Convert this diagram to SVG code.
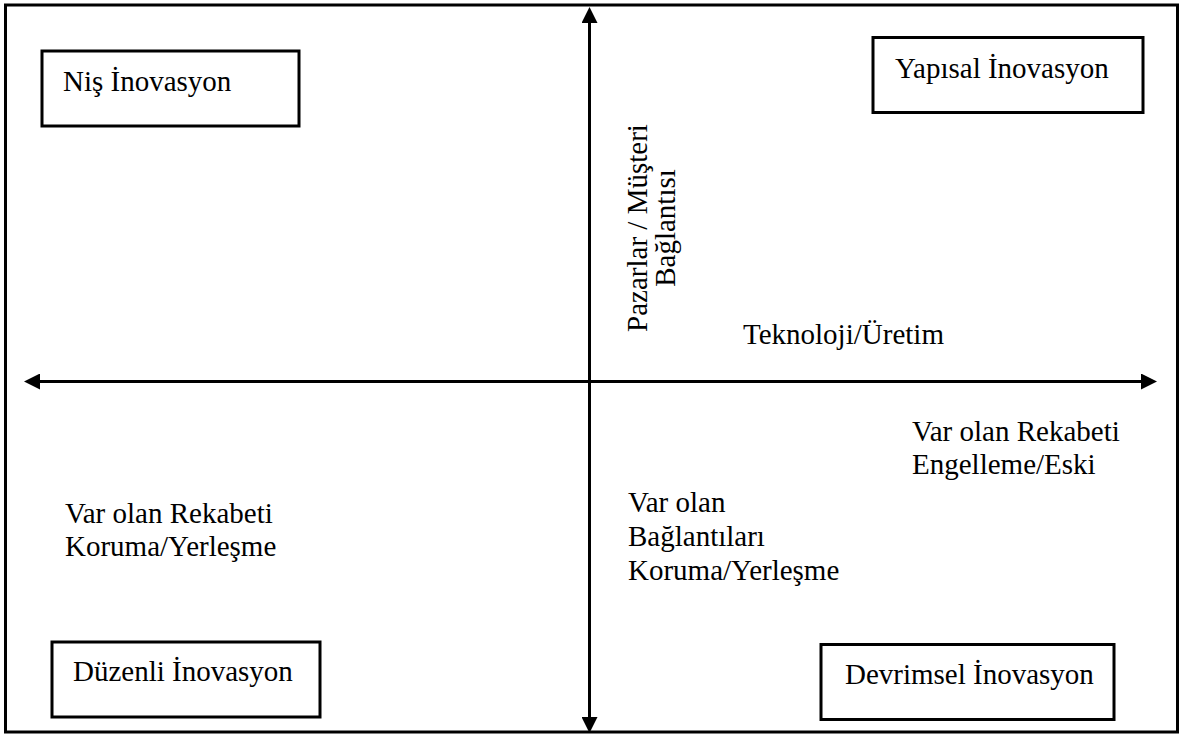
<svg xmlns="http://www.w3.org/2000/svg" width="1180" height="735" viewBox="0 0 1180 735">
  <style>
    .frame { fill: none; stroke: #000; stroke-width: 3; }
    .box { fill: #fff; stroke: #000; stroke-width: 3; }
    .axis { stroke: #000; stroke-width: 3; fill: none; }
    text { font-family: "Liberation Serif", "Times New Roman", serif; font-size: 29px; fill: #000; }
  </style>
  <defs>
    <!-- filled triangular arrowhead, base sits on the line end -->
    <marker id="arrow" viewBox="0 0 16 16" refX="0" refY="8" markerWidth="16" markerHeight="16" markerUnits="userSpaceOnUse" orient="auto-start-reverse">
      <path d="M0,0 L16,8 L0,16 Z" fill="#000"/>
    </marker>
  </defs>

  <rect class="frame" x="5.5" y="5" width="1172" height="727"/>

  <g id="connectors">
    <line class="axis" x1="589.5" y1="717" x2="589.5" y2="23" marker-start="url(#arrow)" marker-end="url(#arrow)"/>
    <line class="axis" x1="40" y1="381.5" x2="1141" y2="381.5" marker-start="url(#arrow)" marker-end="url(#arrow)"/>
  </g>

  <g id="nis">
    <rect class="box" x="42" y="51" width="257" height="75"/>
    <text x="63" y="91">Niş İnovasyon</text>
  </g>

  <g id="yapisal">
    <rect class="box" x="873" y="37.5" width="270" height="75"/>
    <text x="895" y="78">Yapısal İnovasyon</text>
  </g>

  <g id="duzenli">
    <rect class="box" x="52" y="642" width="268" height="75"/>
    <text x="73" y="681">Düzenli İnovasyon</text>
  </g>

  <g id="devrimsel">
    <rect class="box" x="821" y="644.5" width="293" height="75"/>
    <text x="845" y="684">Devrimsel İnovasyon</text>
  </g>

  <g id="pazar-label">
    <text transform="translate(647,228) rotate(-90)" text-anchor="middle">Pazarlar / Müşteri</text>
    <text transform="translate(675,228) rotate(-90)" text-anchor="middle">Bağlantısı</text>
  </g>

  <g id="teknoloji-label">
    <text x="743" y="344">Teknoloji/Üretim</text>
  </g>

  <g id="engelleme-label">
    <text x="912" y="441">Var olan Rekabeti</text>
    <text x="912" y="474">Engelleme/Eski</text>
  </g>

  <g id="koruma-label">
    <text x="65" y="523">Var olan Rekabeti</text>
    <text x="65" y="556">Koruma/Yerleşme</text>
  </g>

  <g id="baglanti-label">
    <text x="628" y="512">Var olan</text>
    <text x="628" y="546">Bağlantıları</text>
    <text x="628" y="580">Koruma/Yerleşme</text>
  </g>
</svg>
